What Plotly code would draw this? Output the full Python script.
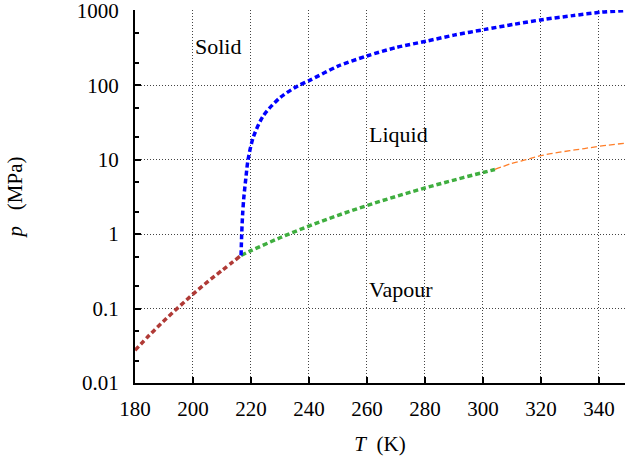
import plotly.graph_objects as go
import math

# Sublimation curve (solid-vapour)
sub_T = [180, 185, 190, 195, 200, 205, 210, 216.58]
sub_p = [0.0275, 0.0440, 0.0685, 0.104, 0.156, 0.228, 0.325, 0.518]

# Melting curve (solid-liquid)
melt_T = [216.58, 216.8, 217.1, 217.5, 218.2, 219.0, 220.8, 224.3, 230.0, 236.0, 240.4, 250.0, 260.0, 270.0, 280.7, 290.0, 300.8, 311.0, 321.0, 331.0, 341.0, 349.0]
melt_p = [0.518, 1.0, 1.8, 3.0, 5.5, 10.0, 20.0, 39.0, 68.0, 97.0, 117.0, 180.0, 247.0, 320.0, 392.0, 470.0, 562.0, 660.0, 765.0, 860.0, 958.0, 1005.0]

# Vaporisation curve (liquid-vapour) up to the critical point
vap_T = [216.58, 220, 230, 240, 250, 260, 270, 280, 290, 300, 304.13]
vap_p = [0.518, 0.599, 0.893, 1.283, 1.785, 2.419, 3.203, 4.161, 5.318, 6.713, 7.377]

# Extension beyond the critical point
ext_T = [304.13, 310, 315, 320, 325, 330, 335, 341, 349]
ext_p = [7.377, 8.9, 10.0, 11.3, 12.3, 13.2, 14.1, 15.3, 16.6]

regions = ["Solid", "Liquid", "Vapour"]
region_T = [200, 260, 260]
region_p = [326, 21.7, 0.178]

x_ticks = [180, 200, 220, 240, 260, 280, 300, 320, 340]
y_ticks = [0.01, 0.1, 1, 10, 100, 1000]
y_tick_text = ["0.01", "0.1", "1", "10", "100", "1000"]

SERIF = "Liberation Serif, Times New Roman, serif"

fig = go.Figure()
fig.add_trace(go.Scatter(x=ext_T, y=ext_p, mode="lines",
                         line=dict(color="#ff7f2a", width=1.3, dash="6px,3px", shape="spline")))
fig.add_trace(go.Scatter(x=sub_T, y=sub_p, mode="lines",
                         line=dict(color="#b03a36", width=3.5, dash="5px,3px", shape="spline")))
fig.add_trace(go.Scatter(x=vap_T, y=vap_p, mode="lines",
                         line=dict(color="#3fae3f", width=3.5, dash="5px,3px", shape="spline")))
fig.add_trace(go.Scatter(x=melt_T, y=melt_p, mode="lines",
                         line=dict(color="#0000ff", width=3.5, dash="5px,3px", shape="spline",
                                   smoothing=0.8)))

for name, t, p in zip(regions, region_T, region_p):
    fig.add_annotation(x=t, y=math.log10(p), text=name, showarrow=False, xanchor="left",
                       yanchor="middle", font=dict(family=SERIF, size=22, color="black"))

axis_common = dict(
    showgrid=True, gridcolor="#444444", griddash="1px,2px", gridwidth=1,
    showline=True, linecolor="black", linewidth=2,
    ticks="inside", ticklen=6, tickwidth=1.5, tickcolor="black",
    zeroline=False, mirror=False, ticklabeloverflow="allow", automargin=False,
    tickfont=dict(family=SERIF, size=21, color="black"),
)

fig.update_layout(
    width=626, height=461,
    margin=dict(l=135, r=1, t=10, b=78),
    paper_bgcolor="white", plot_bgcolor="white",
    showlegend=False,
    font=dict(family=SERIF, size=21, color="black"),
    xaxis=dict(range=[180, 349], tickvals=x_ticks, ticktext=[str(v) for v in x_ticks],
               ticklabelstandoff=6,
               title=dict(text="<i>T</i>&nbsp;&nbsp;(K)", standoff=16,
                          font=dict(family=SERIF, size=21)),
               **axis_common),
    yaxis=dict(type="log", range=[-2, 3.01], tickvals=y_ticks, ticktext=y_tick_text,
               ticklabelstandoff=10,
               minor=dict(tickvals=[0.02, 0.05, 0.2, 0.5, 2, 5, 20, 50, 200, 500],
                          ticks="inside", ticklen=4, tickcolor="black", showgrid=False),
               title=dict(text="<i>p</i>&nbsp;&nbsp;&nbsp;(MPa)", standoff=48,
                          font=dict(family=SERIF, size=21)),
               **axis_common),
)

fig.write_html("out.html")
